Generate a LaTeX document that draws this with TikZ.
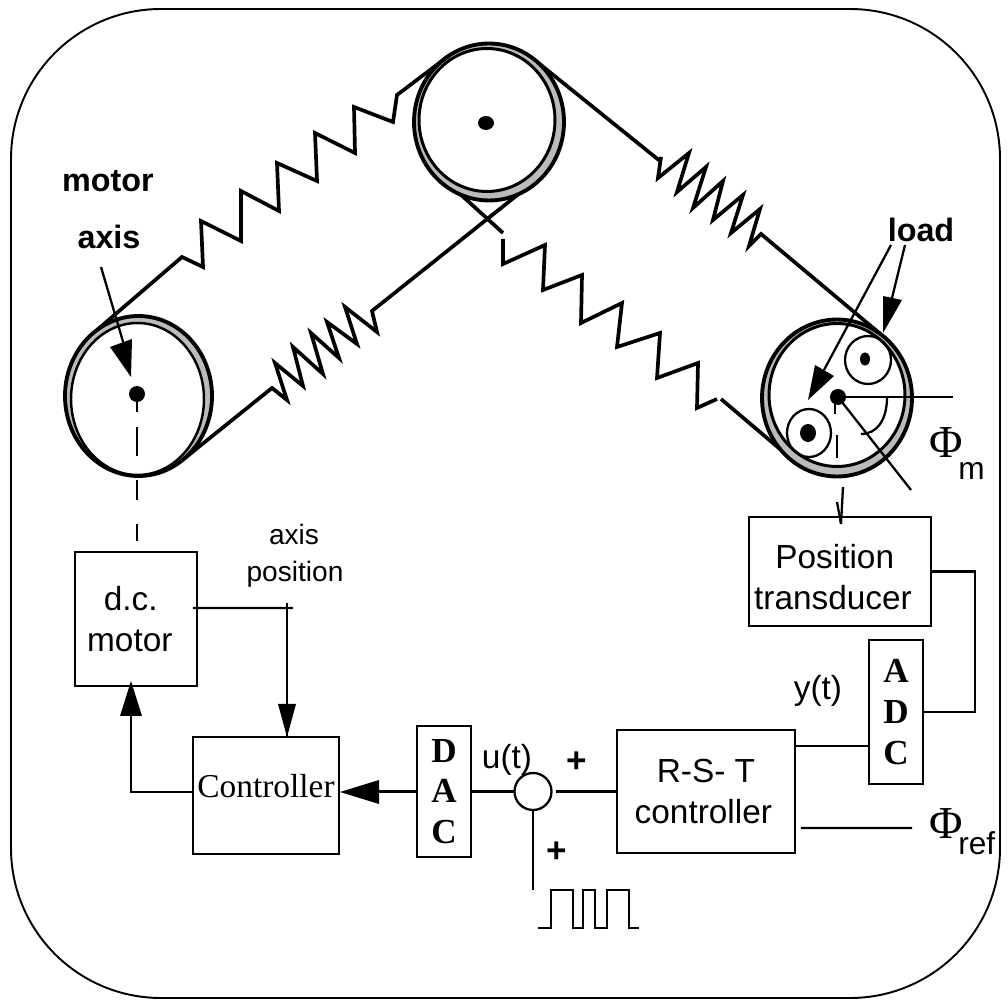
\documentclass[tikz,border=0pt]{standalone}
\usepackage{fontspec}
\setmainfont{Liberation Sans}
\newfontfamily\serifface{Liberation Serif}
\usetikzlibrary{shapes.geometric}
\tikzset{
	wheel/.style={ellipse,draw=black,line width=2.2pt,inner sep=0pt,outer sep=0pt},
	hub/.style={ellipse,fill=black,inner sep=0pt,outer sep=0pt},
	belt/.style={black,line width=2.1pt,line join=miter},
	wire/.style={black,line width=1.3pt},
	blockbox/.style={draw=black,line width=1.3pt,inner sep=0pt,outer sep=0pt,align=center,font=\fontsize{19}{23.2}\selectfont},
	convbox/.style={blockbox,font=\fontsize{20}{23.2}\selectfont\serifface\bfseries},
	plainlabel/.style={inner sep=0pt,anchor=base,font=\fontsize{19}{23}\selectfont},
	boldlabel/.style={inner sep=0pt,anchor=base,font=\fontsize{18.4}{23}\selectfont\bfseries},
	philabel/.style={inner sep=0pt,anchor=base west,font=\fontsize{18}{23}\selectfont},
}
\newcommand{\phisign}{{\fontsize{26}{26}\selectfont\serifface Φ}}
\begin{document}
\begin{tikzpicture}[x=0.02cm,y=0.02cm]
			\useasboundingbox (0,0) rectangle (1008,-1006);
			\draw [black,line width=1.1pt,rounded corners=3cm] (11,-9) rectangle (1000,-998);
			\node [wheel,fill={rgb,255:red,187;green,187;blue,187},minimum width=2.94cm,minimum height=3.2cm] (motorwheel) at (138.5,-396) {};
			\node [wheel,fill=white,line width=1.4pt,minimum width=2.66cm,minimum height=3.04cm] (motorinner) at (137.5,-399) {};
			\node [wheel,fill={rgb,255:red,187;green,187;blue,187},minimum width=3.0cm,minimum height=3.14cm] (topwheel) at (489,-122) {};
			\node [wheel,fill=white,line width=1.7pt,minimum width=2.72cm,minimum height=2.86cm] (topinner) at (487,-120) {};
			\node [wheel,fill={rgb,255:red,187;green,187;blue,187},minimum width=3.0cm,minimum height=3.14cm] (loadwheel) at (837,-398) {};
			\node [wheel,fill=white,line width=1.7pt,minimum width=2.72cm,minimum height=2.86cm] (loadinner) at (837,-395) {};
			\node [wheel,line width=1.3pt,minimum width=0.92cm,minimum height=0.96cm] (upperroller) at (868,-360) {};
			\node [wheel,line width=1.3pt,minimum width=0.88cm,minimum height=0.96cm] (lowerroller) at (809,-433) {};
			\node [hub,minimum width=0.32cm,minimum height=0.32cm] (motorhub) at (137,-394) {};
			\node [hub,minimum width=0.32cm,minimum height=0.28cm] (tophub) at (486,-123) {};
			\node [hub,minimum width=0.32cm,minimum height=0.32cm] (loadhub) at (838,-397) {};
			\node [hub,minimum width=0.2cm,minimum height=0.26cm] (upperhub) at (865,-359) {};
			\node [hub,minimum width=0.32cm,minimum height=0.36cm] (lowerhub) at (808,-433) {};
			\draw [belt] (motorwheel.122) -- (182,-257) -- (203,-267) -- (201,-221) -- (241,-241) -- (241,-191) -- (279,-211) -- (277,-163) -- (317,-181) -- (315,-133) -- (355,-153) -- (354,-107) -- (393,-122) -- (397,-95) -- (topwheel.121);
			\draw [belt] (motorwheel.-54) -- (272,-388) -- (287,-400) -- (275,-363) -- (303,-386) -- (293,-347) -- (323,-374) -- (311,-333) -- (339,-358) -- (327,-322) -- (357,-344) -- (345,-307) -- (377,-332) -- (372,-311) -- (topwheel.-68);
			\draw [belt] (topwheel.-111) -- (503,-233);
			\draw [belt] (503,-239) -- (503,-264) -- (545,-245) -- (543,-290) -- (582,-275) -- (581,-323) -- (622,-303) -- (617,-347) -- (660,-333) -- (657,-378) -- (698,-363) -- (697,-408) -- (717,-399);
			\draw [belt] (721,-399) -- (loadwheel.222);
			\draw [belt] (topwheel.50) -- (660,-161) -- (661,-157) -- (658,-178) -- (689,-153) -- (677,-192) -- (706,-167) -- (693,-208) -- (723,-181) -- (713,-220) -- (743,-195) -- (731,-233) -- (760,-209) -- (749,-246) -- (761,-234) -- (loadwheel.56);
			\node [blockbox,minimum width=2.44cm,minimum height=2.68cm] (dcmotor) at (136,-619) {d.c.\hspace*{6pt}\\motor\hspace*{7pt}};
			\node [blockbox,font=\fontsize{19}{23}\selectfont\serifface,text depth=11pt,minimum width=2.92cm,minimum height=2.34cm] (controller) at (266,-795.5) {Controller};
			\node [convbox,minimum width=1.08cm,minimum height=2.62cm] (dac) at (444,-791.5) {D\\A\\C};
			\node [draw=black,circle,line width=1.3pt,inner sep=0pt,outer sep=0pt,minimum size=0.74cm] (sumnode) at (533,-791.5) {};
			\node [blockbox,minimum width=3.56cm,minimum height=2.46cm] (rst) at (706,-791.5) {R-S- T\\controller\hspace*{3pt}};
			\node [convbox,minimum width=1.08cm,minimum height=2.88cm] (adc) at (896,-712) {A\\D\\C};
			\node [blockbox,minimum width=3.64cm,minimum height=2.18cm] (transducer) at (840,-571.5) {\rule{0pt}{20.4pt}Position\hspace*{6pt}\\transducer\hspace*{8pt}};
			\coordinate (axisend) at (293,-608);
			\coordinate (axistop) at (287,-603);
			\coordinate (pulsetop) at (533,-890);
			\coordinate (refend) at (912,-828);
			\draw [black,line width=1.3pt,dash pattern=on 5.7pt off 8.5pt on 16.4pt off 13.6pt on 11.3pt off 14.2pt on 9.6pt off 5.7pt] (motorhub.south) -- (motorhub.south |- dcmotor.north);
			\draw [wire] ([xshift=-0.08cm,yshift=0.22cm]dcmotor.east) -- (axisend);
			\draw [wire] (axistop) -- (axistop |- controller.north);
			\fill [black] (287,-737) -- (278,-704) -- (296,-704);
			\draw [wire] ([yshift=0.07cm]controller.west) -| (131,-700);
			\fill [black] (131,-681) -- (120,-716) -- (142,-716);
			\draw [wire] (dac.west) -- (379,-791.5);
			\fill [black] (340,-792) -- (379,-780) -- (379,-804);
			\draw [wire] (dac.east) -- (sumnode.west);
			\draw [wire] ([xshift=0.08cm]sumnode.east) -- (rst.west);
			\draw [wire] (sumnode.south) -- (pulsetop);
			\draw [wire] (538,-928) -| (551,-890) -| (573,-928) -| (583,-890) -| (595,-928) -| (607,-890) -| (629,-928) -- (639,-928);
			\draw [wire] ([yshift=0.91cm]rst.east) -- ([yshift=0.91cm]rst.east -| adc.west);
			\draw [wire] (transducer.east) -- (975,-571.5) |- (adc.east);
			\draw [wire] ([xshift=0.12cm,yshift=-0.73cm]rst.east) -- (refend);
			\draw [wire] (loadhub.center) -- (953,-397);
			\draw [wire] (loadhub.center) -- (911,-490);
			\draw [wire] (887,-397) .. controls (887,-420) and (877,-434) .. (861,-434);
			\draw [wire] (835,-404) -- (835,-414);
			\draw [wire] (837,-435) -- (837,-458);
			\draw [wire] (843,-487) -- ([xshift=0.02cm,yshift=-0.14cm]transducer.north);
			\draw [wire] (837,-502) -- ([xshift=0.02cm,yshift=-0.14cm]transducer.north);
			\draw [wire] (101,-267) -- (124,-345);
			\fill [black] (131,-377) -- (110,-347) -- (132,-339);
			\draw [wire] (891,-245) -- (824,-370);
			\fill [black] (808,-400) -- (815,-365) -- (834,-376);
			\draw [wire] (905,-245) -- (892,-298);
			\fill [black] (883,-333) -- (883,-296) -- (902,-300);
			\node [boldlabel] (motorlabel) at (108,-192) {motor};
			\node [boldlabel] (axislabel) at (109,-249) {axis};
			\node [boldlabel] (loadlabel) at (921,-242) {load};
			\node [plainlabel,font=\fontsize{16}{20}\selectfont] (axistext) at (294,-545) {axis};
			\node [plainlabel,font=\fontsize{16}{20}\selectfont] (positiontext) at (295,-582) {position};
			\node [plainlabel] (ulabel) at (507,-768) {u(t)};
			\node [plainlabel] (ylabel) at (818,-700) {y(t)};
			\node [boldlabel,font=\fontsize{20}{23}\selectfont\bfseries] (upperplus) at (577,-772) {+};
			\node [boldlabel,font=\fontsize{20}{23}\selectfont\bfseries] (lowerplus) at (557,-862) {+};
			\node [philabel] (phimlabel) at (929,-458) {\phisign\kern-2.5pt\raisebox{-12pt}{m}};
			\node [philabel] (phireflabel) at (929,-838) {\phisign\kern-2.5pt\raisebox{-9.6pt}{ref}};
\end{tikzpicture}
\end{document}
